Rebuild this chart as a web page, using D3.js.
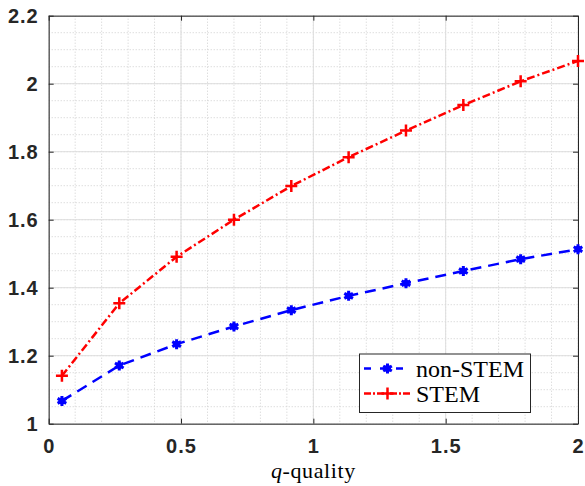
<!DOCTYPE html>
<html><head><meta charset="utf-8">
<script src="https://cdn.jsdelivr.net/npm/d3@7"></script>
<style>body{margin:0;background:#fff}svg{display:block}</style>
</head><body>
<script>
const xValues = [0.05, 0.2667, 0.4833, 0.7, 0.9167, 1.1333, 1.35, 1.5667, 1.7833, 2.0];
const nonStem = [1.067, 1.171, 1.234, 1.286, 1.334, 1.376, 1.413, 1.449, 1.484, 1.513];
const stem    = [1.141, 1.354, 1.491, 1.600, 1.699, 1.784, 1.862, 1.937, 2.007, 2.067];
const xTicks = [0, 0.5, 1, 1.5, 2];
const xTickLabels = ["0", "0.5", "1", "1.5", "2"];
const yTicks = [1, 1.2, 1.4, 1.6, 1.8, 2, 2.2];
const yTickLabels = ["1", "1.2", "1.4", "1.6", "1.8", "2", "2.2"];
const seriesNames = ["non-STEM", "STEM"];

const W = 585, H = 486;
const L = 48.7, R = 578, T = 15.7, B = 423.7;
const serif = "'Liberation Serif', 'Times New Roman', Times, serif";
const sans = "'Liberation Sans', Arial, Helvetica, sans-serif";
const svg = d3.select("body").append("svg").attr("width", W).attr("height", H);
const x = d3.scaleLinear().domain([0, 2]).range([L, R]);
const y = d3.scaleLinear().domain([1, 2.2]).range([B, T]);

// minor grid
const g = svg.append("g");
const xMinor = d3.range(0, 2.0001, 0.1).map(v => +v.toFixed(2));
const yMinor = d3.range(1, 2.2001, 0.05).map(v => +v.toFixed(2));
g.selectAll(".xm").data(xMinor).join("line")
  .attr("x1", d => x(d)).attr("x2", d => x(d)).attr("y1", T).attr("y2", B)
  .attr("stroke", "#cfcfcf").attr("stroke-width", 1).attr("stroke-dasharray", "1,2");
g.selectAll(".ym").data(yMinor).join("line")
  .attr("y1", d => y(d)).attr("y2", d => y(d)).attr("x1", L).attr("x2", R)
  .attr("stroke", "#cfcfcf").attr("stroke-width", 1).attr("stroke-dasharray", "1,2");
// major grid
g.selectAll(".xM").data(xTicks).join("line")
  .attr("x1", d => x(d)).attr("x2", d => x(d)).attr("y1", T).attr("y2", B)
  .attr("stroke", "#dedede").attr("stroke-width", 1);
g.selectAll(".yM").data(yTicks).join("line")
  .attr("y1", d => y(d)).attr("y2", d => y(d)).attr("x1", L).attr("x2", R)
  .attr("stroke", "#dedede").attr("stroke-width", 1);

// axes
const axCol = "#262626";
const fmtX = (d) => xTickLabels[xTicks.indexOf(d)];
const fmtY = (d) => yTickLabels[yTicks.indexOf(d)];
const ax = (a, tr) => {
  const s = svg.append("g").attr("transform", tr).call(a);
  s.select(".domain").attr("stroke", axCol).attr("stroke-width", 1);
  s.selectAll(".tick line").attr("stroke", axCol);
  s.selectAll("text").attr("fill", axCol).attr("font-family", sans)
    .attr("font-weight", "bold").attr("font-size", "20px").attr("letter-spacing", "1px");
  return s;
};
ax(d3.axisBottom(x).tickValues(xTicks).tickFormat(fmtX).tickSizeInner(-5).tickSizeOuter(0).tickPadding(15), `translate(0,${B})`);
ax(d3.axisTop(x).tickValues(xTicks).tickFormat("").tickSizeInner(-5).tickSizeOuter(0), `translate(0,${T})`);
ax(d3.axisLeft(y).tickValues(yTicks).tickFormat(fmtY).tickSizeInner(-5).tickSizeOuter(0).tickPadding(10), `translate(${L},0)`);
ax(d3.axisRight(y).tickValues(yTicks).tickFormat("").tickSizeInner(-5).tickSizeOuter(0), `translate(${R},0)`);

// lines
const data1 = xValues.map((v, i) => [v, nonStem[i]]);
const data2 = xValues.map((v, i) => [v, stem[i]]);
const line = d3.line().x(d => x(d[0])).y(d => y(d[1]));
const blue = "#0000ff", red = "#ff0000";
svg.append("path").datum(data1).attr("d", line).attr("fill", "none")
  .attr("stroke", blue).attr("stroke-width", 2.5).attr("stroke-dasharray", "11,7");
svg.append("path").datum(data2).attr("d", line).attr("fill", "none")
  .attr("stroke", red).attr("stroke-width", 2.5).attr("stroke-dasharray", "8,3,2,3");

const ast = d3.symbol().type(d3.symbolAsterisk).size(70);
svg.selectAll(".m1").data(data1).join("path")
  .attr("transform", d => `translate(${x(d[0])},${y(d[1])})`)
  .attr("d", ast).attr("fill", "none").attr("stroke", blue).attr("stroke-width", 3);
svg.selectAll(".m1c").data(data1).join("circle")
  .attr("cx", d => x(d[0])).attr("cy", d => y(d[1])).attr("r", 3.5).attr("fill", blue);
function plusPath(cx, cy, r) { return `M${cx - r},${cy}H${cx + r}M${cx},${cy - r}V${cy + r}`; }
svg.selectAll(".m2").data(data2).join("path")
  .attr("d", d => plusPath(x(d[0]), y(d[1]), 6)).attr("stroke", red).attr("stroke-width", 2.5).attr("fill", "none");

// legend
const lg = svg.append("g");
lg.append("rect").attr("x", 359.5).attr("y", 354).attr("width", 171).attr("height", 58.5)
  .attr("fill", "#fff").attr("stroke", axCol).attr("stroke-width", 1);
const rows = [{name: seriesNames[0], c: blue, mk: "ast", yy: 368.5},
              {name: seriesNames[1], c: red, mk: "plus", yy: 393.5}];
rows.forEach(r => {
  lg.append("line").attr("x1", 364).attr("x2", 411).attr("y1", r.yy).attr("y2", r.yy)
    .attr("stroke", r.c).attr("stroke-width", 2.5).attr("stroke-dasharray", r.mk === "ast" ? "7,9" : "7,2,2,2");
  if (r.mk === "ast") {
    lg.append("path").attr("transform", `translate(387.5,${r.yy})`).attr("d", ast)
      .attr("fill", "none").attr("stroke", r.c).attr("stroke-width", 3);
    lg.append("circle").attr("cx", 387.5).attr("cy", r.yy).attr("r", 3.5).attr("fill", r.c);
  } else {
    lg.append("path").attr("d", plusPath(387.5, r.yy, 6)).attr("stroke", r.c).attr("stroke-width", 2.5);
  }
  lg.append("text").attr("x", 416).attr("y", r.yy + 8)
    .attr("font-family", serif).attr("font-size", "24px")
    .attr("fill", "#000").text(r.name);
});

// x label
const xl = svg.append("text").attr("x", x(1)).attr("y", 477.5).attr("text-anchor", "middle")
  .attr("font-family", serif).attr("font-size", "22px").attr("letter-spacing", "0.6px").attr("fill", "#000");
xl.append("tspan").attr("font-style", "italic").text("q");
xl.append("tspan").text("-quality");
</script>
</body></html>
